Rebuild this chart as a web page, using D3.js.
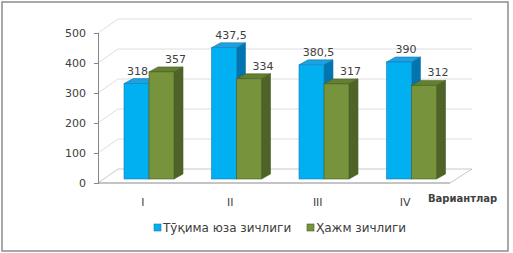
<!DOCTYPE html>
<html lang="uz">
<head>
<meta charset="UTF-8">
<title>Вариантлар</title>
<script src="https://d3js.org/d3.v7.min.js"></script>
<style>
body { margin: 0; background: #fff; }
text { font-family: "DejaVu Sans", sans-serif; fill: #404040; }
.axis path, .axis line { stroke: #868686; shape-rendering: crispEdges; }
</style>
</head>
<body>
<script>
var width = 513, height = 253;

// data
var categories = ["I", "II", "III", "IV"];
var seriesNames = ["Тӯқима юза зичлиги", "Ҳажм зичлиги"];
var tukimaValues = [318, 437.5, 380.5, 390];
var hajmValues = [357, 334, 317, 312];
var labelTexts = [["318", "437,5", "380,5", "390"], ["357", "334", "317", "312"]];
var yTicks = [0, 100, 200, 300, 400, 500];

var series = [tukimaValues, hajmValues];
var front = ["#00b0f0", "#77933c"];
var topC = ["#1aa3e0", "#62802f"];
var sideC = ["#0075b0", "#4f6228"];
var edge = ["#1f77b4", "#4a5e25"];

var svg = d3.select("body").append("svg")
    .attr("width", width).attr("height", height);

// frame
svg.append("rect")
    .attr("x", 2).attr("y", 2).attr("width", 506).attr("height", 249)
    .attr("fill", "#fff").attr("stroke", "#8c8c8c").attr("stroke-width", 1.5);

var x = d3.scaleBand().domain(categories).range([99, 449]);
var y = d3.scaleLinear().domain([0, 500]).range([183, 33]);
var x1 = d3.scaleBand().domain([0, 1]).range([0, 50]);

// back wall / floor depth
var dX = 20, dY = -14;
var grid = svg.append("g");
yTicks.filter(function(t) { return t > 0; }).forEach(function(t) {
    grid.append("polyline")
        .attr("points", [[98, y(t)], [98 + dX, y(t) + dY], [449 + dX + 3, y(t) + dY]].join(" "))
        .attr("fill", "none").attr("stroke", "#dedede");
});
grid.append("polygon")
    .attr("points", [[98, y(0)], [98 + dX, y(0) + dY], [472, y(0) + dY], [450, y(0)]].join(" "))
    .attr("fill", "#fff").attr("stroke", "#c8c8c8");
grid.append("line")
    .attr("x1", 98).attr("x2", 450).attr("y1", y(0)).attr("y2", y(0))
    .attr("stroke", "#a6a6a6");

// y axis
var yAxis = d3.axisLeft(y).tickValues(yTicks).tickSize(4).tickPadding(8);
var ya = svg.append("g").attr("class", "axis")
    .attr("transform", "translate(98,0)")
    .call(yAxis);
ya.select(".domain").attr("d", "M-4," + y(500) + "H0V" + y(0) + "H-4");
ya.selectAll("text").style("font-size", "11px").attr("fill", "#404040");

// bars
var lift = -4, bw = x1.bandwidth(), ox = 9, oy = -5;
var bars = svg.append("g");
categories.forEach(function(c, i) {
    series.forEach(function(vals, s) {
        var x0 = x(c) + 25 + x1(s);
        var top = y(vals[i]) + lift, bot = y(0) + lift;
        var g = bars.append("g");
        g.append("polygon")
            .attr("points", [[x0, top], [x0 + ox, top + oy], [x0 + bw + ox, top + oy], [x0 + bw, top]].join(" "))
            .attr("fill", topC[s]).attr("stroke", edge[s]).attr("stroke-width", 0.6);
        g.append("polygon")
            .attr("points", [[x0 + bw, top], [x0 + bw + ox, top + oy], [x0 + bw + ox, bot + oy], [x0 + bw, bot]].join(" "))
            .attr("fill", sideC[s]).attr("stroke", edge[s]).attr("stroke-width", 0.6);
        g.append("rect")
            .attr("x", x0).attr("y", top).attr("width", bw).attr("height", bot - top)
            .attr("fill", front[s]).attr("stroke", edge[s]).attr("stroke-width", 0.6);
        svg.append("text")
            .attr("x", x0 + bw / 2 + (s === 0 ? (i === 0 ? 1 : 7) : 14))
            .attr("y", top - 9)
            .attr("text-anchor", "middle")
            .style("font-size", "11px")
            .text(labelTexts[s][i]);
    });
});

// category labels
svg.append("g").selectAll("text").data(categories).enter()
    .append("text")
    .attr("x", function(d) { return x(d) + x.bandwidth() / 2; })
    .attr("y", 206)
    .attr("text-anchor", "middle")
    .style("font-size", "11px")
    .text(function(d) { return d; });

svg.append("text")
    .attr("x", 428).attr("y", 202)
    .style("font-size", "10px").style("font-weight", "bold")
    .attr("fill", "#262626")
    .text("Вариантлар");

// legend
var legX = [154, 307];
seriesNames.forEach(function(n, s) {
    svg.append("rect")
        .attr("x", legX[s]).attr("y", 224).attr("width", 7).attr("height", 7)
        .attr("fill", front[s]).attr("stroke", edge[s]).attr("stroke-width", 0.6);
    svg.append("text")
        .attr("x", legX[s] + 9).attr("y", 232)
        .style("font-size", "12px")
        .text(n);
});
</script>
</body>
</html>
